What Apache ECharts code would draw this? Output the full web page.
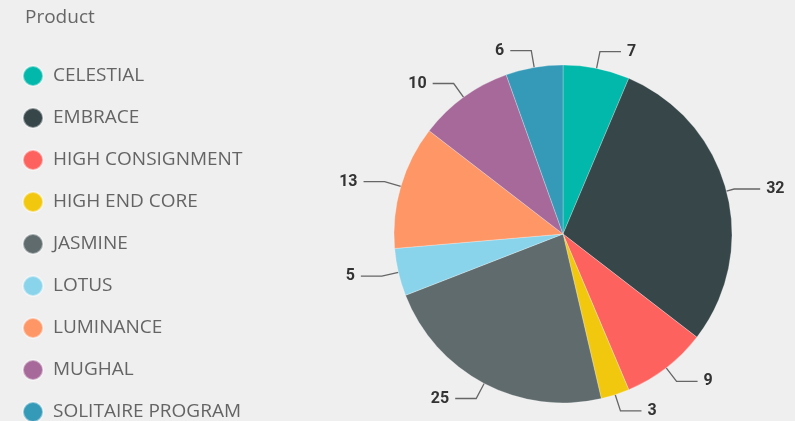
<!DOCTYPE html>
<html><head><meta charset="utf-8">
<script src="https://cdn.jsdelivr.net/npm/echarts@6/dist/echarts.min.js"></script>
<style>html,body{margin:0;padding:0;background:#efefef}#c{width:795px;height:421px}</style>
</head><body><div id="c"></div>
<script>
const categories = ['CELESTIAL','EMBRACE','HIGH CONSIGNMENT','HIGH END CORE','JASMINE','LOTUS','LUMINANCE','MUGHAL','SOLITAIRE PROGRAM'];
const values = [7,32,9,3,25,5,13,10,6];
const colors = ['#01B8AA','#374649','#FD625E','#F2C80F','#5F6B6D','#8AD4EB','#FE9666','#A66999','#3599B8'];

const chart = echarts.init(document.getElementById('c'));
chart.setOption({
  backgroundColor: '#efefef',
  animation: false,
  title: {text: 'Product', left: 20, top: 3, textStyle: {fontFamily: 'Open Sans', fontSize: 19, fontWeight: 'normal', color: '#666'}},
  legend: {
    orient: 'vertical', left: 17, top: 60, height: 600, padding: 5,
    itemWidth: 20, itemHeight: 20, itemGap: 20, icon: 'circle',
    textStyle: {fontFamily: 'Open Sans', fontSize: 19, color: '#646464', lineHeight: 20, padding: [0,0,0,5]},
    data: categories
  },
  series: [{
    type: 'pie', center: [563, 234], radius: 169, startAngle: 90, clockwise: true,
    itemStyle: {borderColor: 'rgba(255,255,255,0.45)', borderWidth: 0.6},
    label: {show: true, formatter: '{c}', fontFamily: 'Roboto', fontSize: 16, fontWeight: 'bold', color: '#333', distanceToLabelLine: 6},
    labelLine: {show: true, length: 17, length2: 21, lineStyle: {color: '#666', width: 1.3}},
    data: categories.map((n,i)=>{
      const d = {name:n, value:values[i], itemStyle:{color:colors[i]}};
      if (n === 'EMBRACE') d.labelLine = {length: 8, length2: 26};
      return d;
    })
  }]
});
</script></body></html>
